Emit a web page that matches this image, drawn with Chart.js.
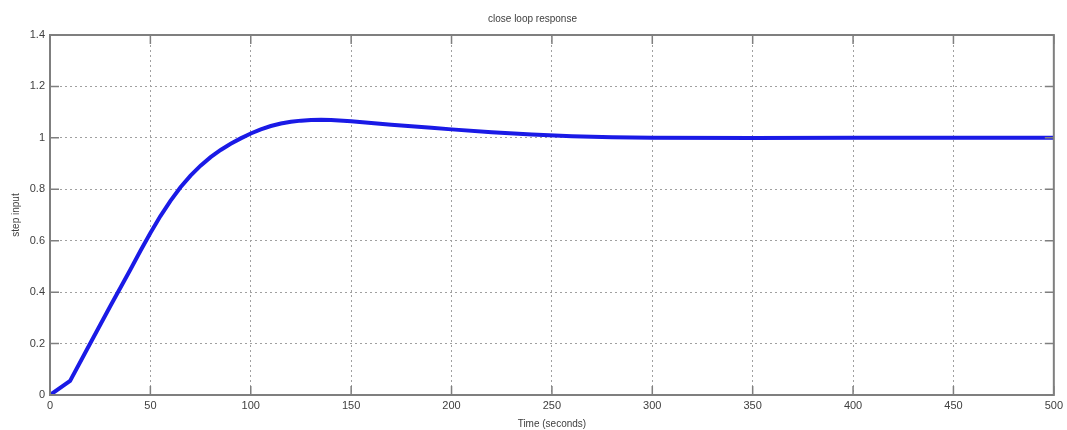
<!DOCTYPE html>
<html>
<head>
<meta charset="utf-8">
<title>close loop response</title>
<script src="https://cdn.jsdelivr.net/npm/chart.js@4/dist/chart.umd.min.js"></script>
<style>
  html, body { margin: 0; padding: 0; background: #fff; }
  #wrap { width: 1067px; height: 430px; position: relative; }
</style>
</head>
<body>
<div id="wrap"><canvas id="stepChart"></canvas></div>
<script>
// step response samples (time in seconds, output)
const timeValues = [0, 10, 20, 30, 40, 45, 50, 55, 60, 65, 70, 75, 80, 85, 90, 95, 100, 105, 110, 115, 120, 125, 130, 135, 140, 150, 160, 170, 180, 190, 200, 220, 240, 260, 280, 300, 350, 400, 450, 500];
const responseValues = [0, 0.055, 0.2, 0.345, 0.487, 0.56, 0.63, 0.696, 0.755, 0.808, 0.853, 0.892, 0.925, 0.953, 0.977, 0.998, 1.017, 1.033, 1.046, 1.056, 1.063, 1.067, 1.069, 1.07, 1.069, 1.065, 1.058, 1.051, 1.045, 1.039, 1.033, 1.022, 1.013, 1.006, 1.002, 1.0, 0.999, 1.0, 1.0, 1.0];
const xTicks = [0, 50, 100, 150, 200, 250, 300, 350, 400, 450, 500];
const yTicks = [0, 0.2, 0.4, 0.6, 0.8, 1, 1.2, 1.4];

const points = timeValues.map((t, i) => ({ x: t, y: responseValues[i] }));

const frameColor = '#7f7f7f';
const labelColor = '#404040';
const font = { family: 'Liberation Sans', size: 11, weight: 'normal' };

// box around the axes with short inward tick marks, matlab style
const framePlugin = {
    id: 'frame',
    afterDatasetsDraw(chart) {
        const { ctx, chartArea: a, scales } = chart;
        ctx.save();
        ctx.strokeStyle = frameColor;
        ctx.lineWidth = 2;
        ctx.strokeRect(a.left, a.top, a.right - a.left, a.bottom - a.top);
        ctx.lineWidth = 1.5;
        ctx.beginPath();
        xTicks.forEach(v => {
            const px = scales.x.getPixelForValue(v);
            ctx.moveTo(px, a.bottom); ctx.lineTo(px, a.bottom - 9);
            ctx.moveTo(px, a.top); ctx.lineTo(px, a.top + 9);
        });
        yTicks.forEach(v => {
            const py = scales.y.getPixelForValue(v);
            ctx.moveTo(a.left, py); ctx.lineTo(a.left + 9, py);
            ctx.moveTo(a.right, py); ctx.lineTo(a.right - 9, py);
        });
        ctx.stroke();
        ctx.restore();
    }
};

new Chart(document.getElementById('stepChart'), {
    type: 'line',
    data: {
        datasets: [{
            data: points,
            borderColor: '#1a1ae6',
            borderWidth: 4,
            pointRadius: 0,
            fill: false,
            tension: 0
        }]
    },
    options: {
        responsive: true,
        maintainAspectRatio: false,
        animation: false,
        layout: { padding: { top: 0, right: 12, left: 10, bottom: 0 } },
        plugins: {
            legend: { display: false },
            tooltip: { enabled: false },
            title: {
                display: true,
                text: 'close loop response',
                color: labelColor,
                font: { family: 'Liberation Sans', size: 10, weight: 'normal' },
                padding: { top: 13, bottom: 10 }
            }
        },
        scales: {
            x: {
                type: 'linear',
                min: 0,
                max: 500,
                afterBuildTicks: s => { s.ticks = xTicks.map(v => ({ value: v })); },
                afterFit: s => { s.height = 35; },
                grid: { color: '#a0a0a0', drawTicks: false },
                border: { display: false, dash: [2, 3] },
                ticks: { color: labelColor, font: font, padding: 4, maxRotation: 0 },
                title: { display: true, text: 'Time (seconds)', color: labelColor, font: { family: 'Liberation Sans', size: 10 }, padding: { top: 0, bottom: 0 } }
            },
            y: {
                min: 0,
                max: 1.4,
                afterBuildTicks: s => { s.ticks = yTicks.map(v => ({ value: v })); },
                afterFit: s => { s.width = 40; },
                grid: { color: '#a0a0a0', drawTicks: false },
                border: { display: false, dash: [2, 3] },
                ticks: { color: labelColor, font: font, padding: 5, callback: v => String(+v.toFixed(1)) },
                title: { display: true, text: 'step input', color: labelColor, font: { family: 'Liberation Sans', size: 10 }, padding: { top: 0, bottom: 4 } }
            }
        }
    },
    plugins: [framePlugin]
});
</script>
</body>
</html>
